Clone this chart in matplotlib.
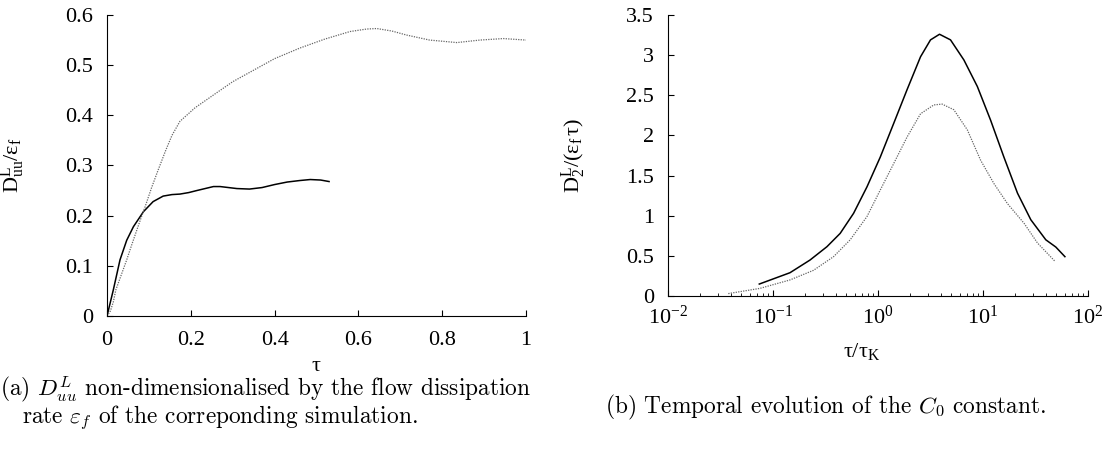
import numpy as np
import matplotlib
matplotlib.use("Agg")
import matplotlib.pyplot as plt
from matplotlib.ticker import LogLocator, NullFormatter

plt.rcParams['font.family'] = ['Liberation Serif', 'DejaVu Serif']
plt.rcParams['mathtext.fontset'] = 'custom'
plt.rcParams['mathtext.rm'] = 'Liberation Serif'
plt.rcParams['mathtext.it'] = 'Liberation Serif:italic'
plt.rcParams['mathtext.bf'] = 'Liberation Serif:bold'
plt.rcParams['font.size'] = 16

# (a) D_uu / eps_f vs tau
tau_solid = [0.0, 0.015, 0.031, 0.047, 0.063, 0.087, 0.11, 0.134, 0.155, 0.174, 0.195, 0.214, 0.234, 0.254, 0.27,
             0.29, 0.31, 0.34, 0.37, 0.40, 0.43, 0.46, 0.485, 0.51, 0.53]
duu_solid = [0.0, 0.052, 0.112, 0.151, 0.178, 0.208, 0.228, 0.239, 0.242, 0.243, 0.246, 0.25, 0.254, 0.258, 0.258,
             0.256, 0.254, 0.253, 0.256, 0.262, 0.267, 0.27, 0.272, 0.271, 0.268]
tau_dot = [0.0, 0.008, 0.015, 0.021, 0.034, 0.047, 0.059, 0.071, 0.081, 0.091, 0.106, 0.122, 0.14, 0.155, 0.174,
           0.21, 0.26, 0.30, 0.35, 0.40, 0.46, 0.52, 0.58, 0.62, 0.644, 0.68, 0.715, 0.77, 0.835, 0.89, 0.946, 1.0]
duu_dot = [0.0, 0.01, 0.028, 0.052, 0.082, 0.112, 0.142, 0.171, 0.195, 0.218, 0.255, 0.291, 0.33, 0.36, 0.388,
           0.415, 0.444, 0.467, 0.49, 0.513, 0.534, 0.552, 0.567, 0.572, 0.573, 0.568, 0.56, 0.55, 0.545, 0.55, 0.553, 0.55]

# (b) D2 / (eps_f tau) vs tau/tau_K
tk_solid = [0.074, 0.145, 0.225, 0.326, 0.436, 0.585, 0.785, 1.05, 1.41, 1.89, 2.54, 3.16, 3.85, 4.9, 6.57, 8.82,
            11.8, 15.8, 21.3, 28.5, 39.6, 49.3, 60.2]
d2_solid = [0.149, 0.29, 0.448, 0.614, 0.78, 1.03, 1.36, 1.73, 2.15, 2.57, 2.98, 3.19, 3.26, 3.19, 2.94, 2.61,
            2.19, 1.73, 1.28, 0.95, 0.70, 0.61, 0.49]
tk_dot = [0.0375, 0.0484, 0.075, 0.145, 0.243, 0.377, 0.543, 0.785, 1.05, 1.41, 1.89, 2.54, 3.40, 4.08, 5.27,
          7.08, 9.49, 12.7, 17.1, 24.6, 33.0, 48.6]
d2_dot = [0.03, 0.054, 0.095, 0.2, 0.32, 0.49, 0.70, 0.99, 1.32, 1.65, 1.98, 2.27, 2.38, 2.39, 2.32,
          2.07, 1.69, 1.40, 1.15, 0.905, 0.66, 0.43]

fig = plt.figure(figsize=(11.08, 4.5), dpi=100)
ax1 = fig.add_axes([0.0966, 0.2978, 0.3781, 0.6689])
ax2 = fig.add_axes([0.6029, 0.3422, 0.3791, 0.6245])

for ax in (ax1, ax2):
    ax.spines['top'].set_visible(False)
    ax.spines['right'].set_visible(False)
    ax.tick_params(direction='in', length=4, width=0.8)
    ax.tick_params(which='minor', direction='in', length=2, width=0.6)
    ax.tick_params(axis='y', pad=10)

ax1.plot(tau_solid, duu_solid, color='black', lw=1.1)
ax1.plot(tau_dot, duu_dot, color='0.4', lw=0.9, ls=(0, (1, 1)))
ax1.set_xlim(0, 1)
ax1.set_ylim(0, 0.6)
ax1.set_xticks([0, 0.2, 0.4, 0.6, 0.8, 1])
ax1.set_xticklabels(['0', '0.2', '0.4', '0.6', '0.8', '1'])
ax1.set_yticks([0, 0.1, 0.2, 0.3, 0.4, 0.5, 0.6])
ax1.set_yticklabels(['0', '0.1', '0.2', '0.3', '0.4', '0.5', '0.6'])
ax1.tick_params(axis='x', pad=11)
ax1.set_xlabel(r'$\mathrm{τ}$')
ax1.set_ylabel(r'$\mathrm{D^L_{uu}/ε_f}$')
ax1.xaxis.set_label_coords(0.5, -0.135)
ax1.yaxis.set_label_coords(-0.191, 0.5)

ax2.plot(tk_solid, d2_solid, color='black', lw=1.1)
ax2.plot(tk_dot, d2_dot, color='0.4', lw=0.9, ls=(0, (1, 1)))
ax2.set_xscale('log')
ax2.set_xlim(0.01, 100)
ax2.set_ylim(0, 3.5)
ax2.xaxis.set_major_locator(LogLocator(base=10, numticks=10))
ax2.xaxis.set_minor_locator(LogLocator(base=10, subs=np.arange(2, 10), numticks=20))
ax2.xaxis.set_minor_formatter(NullFormatter())
ax2.set_yticks([0, 0.5, 1, 1.5, 2, 2.5, 3, 3.5])
ax2.set_yticklabels(['0', '0.5', '1', '1.5', '2', '2.5', '3', '3.5'])
ax2.tick_params(axis='x', pad=7)
ax2.set_xlabel(r'$\mathrm{τ/τ_K}$')
ax2.set_ylabel(r'$\mathrm{D^L_2/(ε_f\,τ)}$')
ax2.xaxis.set_label_coords(0.46, -0.16)
ax2.yaxis.set_label_coords(-0.19, 0.5)

cap = dict(fontfamily='cmr10', math_fontfamily='cm', fontsize=16.8, va='center')
fig.text(0.0, 1 - 390 / 450, r'(a) $D^L_{uu}$ non-dimensionalised by the flow dissipation', ha='left', **cap)
fig.text(22 / 1108, 1 - 418 / 450, r'rate $\varepsilon_f$ of the correponding simulation.', ha='left', **cap)
fig.text(825 / 1108, 1 - 407 / 450, r'(b) Temporal evolution of the $C_0$ constant.', ha='center', **cap)

fig.savefig('out.png', dpi=100)
